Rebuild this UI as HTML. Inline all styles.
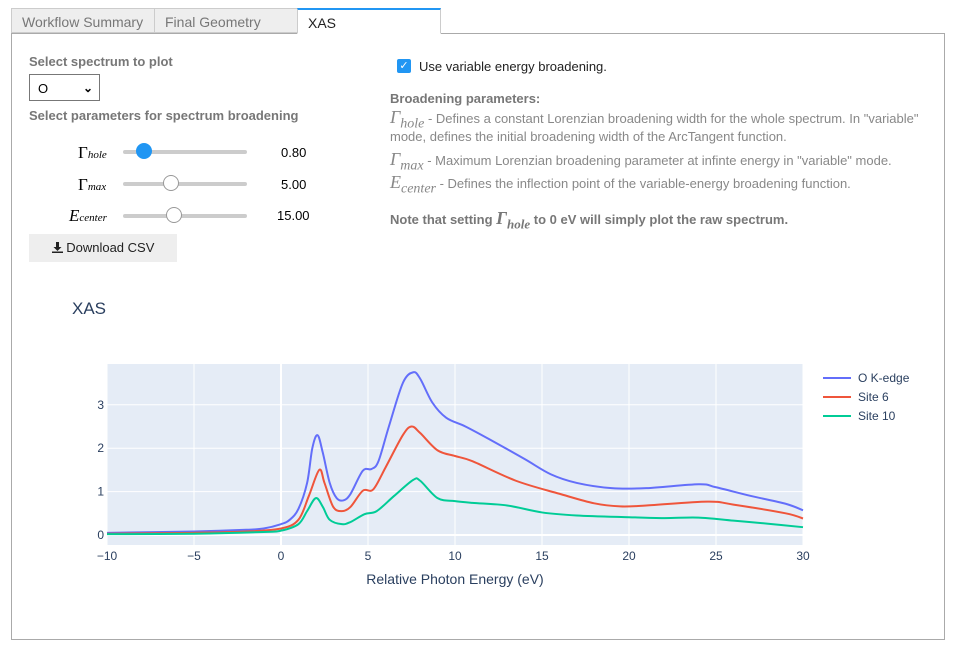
<!DOCTYPE html>
<html><head><meta charset="utf-8"><style>
body{margin:0;width:955px;height:651px;background:#fff;font-family:"Liberation Sans",sans-serif;position:relative;overflow:hidden}
.tab{position:absolute;top:8px;height:25px;border:1px solid #ccc;background:#eee;color:#777;font-size:14px;line-height:26px;padding-left:10px;box-sizing:border-box}
.panel{position:absolute;left:11px;top:33px;width:934px;height:607px;border:1px solid #aaa;box-sizing:border-box}
.lbl{position:absolute;font-size:13px;font-weight:bold;color:#777}
.math{font-family:"Liberation Serif",serif;font-style:italic}
.math sub{line-height:0}
.slider{position:absolute;left:123px;width:124px;height:4px;background:#ccc;border-radius:2px}
.knob{position:absolute;top:-7px;width:16px;height:16px;border-radius:50%;background:#fff;border:1px solid #999;box-sizing:border-box}
.val{position:absolute;left:277px;font-size:13px;color:#000}
.desc{position:absolute;left:390px;font-size:13px;color:#888;line-height:18px;width:540px}
</style></head><body>
<div class="tab" style="left:11px;width:144px">Workflow Summary</div>
<div class="tab" style="left:154px;width:144px">Final Geometry</div>
<div class="tab" style="left:297px;width:144px;background:#fff;color:#222;border-top:2px solid #2196f3;border-bottom:1px solid #fff;height:26px;z-index:2">XAS</div>
<div class="panel"></div>
<div class="lbl" style="left:29px;top:54px">Select spectrum to plot</div>
<div style="position:absolute;left:29px;top:74px;width:71px;height:27px;border:1px solid #777;box-sizing:border-box;font-size:13px;line-height:28px;padding-left:8px">O<span style="position:absolute;right:6px;top:-1px;font-size:12px;font-weight:bold">&#x2304;</span></div>
<div class="lbl" style="left:29px;top:108px">Select parameters for spectrum broadening</div>
<div style="position:absolute;left:78px;top:143px;font-family:'Liberation Serif',serif;font-size:17px">Γ<i style="font-size:11px">hole</i></div>
<div style="position:absolute;left:78px;top:175px;font-family:'Liberation Serif',serif;font-size:17px">Γ<i style="font-size:11px">max</i></div>
<div style="position:absolute;left:69px;top:206px;font-family:'Liberation Serif',serif;font-size:17px"><i>E</i><i style="font-size:11px">center</i></div>
<div class="slider" style="top:150px"><div class="knob" style="left:13px;background:#2196f3;border-color:#2196f3"></div></div>
<div class="slider" style="top:182px"><div class="knob" style="left:40px"></div></div>
<div class="slider" style="top:214px"><div class="knob" style="left:43px"></div></div>
<div class="val" style="left:281px;top:145px">0.80</div>
<div class="val" style="left:281px;top:177px">5.00</div>
<div class="val" style="top:208px">15.00</div>
<div style="position:absolute;left:29px;top:234px;width:148px;height:28px;background:#eee;font-size:13px;line-height:28px;text-align:center;color:#222"><svg width="11" height="11" viewBox="0 0 11 11" style="vertical-align:-1px"><path d="M4 0h3v5h2.5L5.5 9 1.5 5H4z" fill="#222"/><rect x="0" y="9.5" width="11" height="1.5" fill="#222"/></svg> Download CSV</div>
<div style="position:absolute;left:397px;top:59px;width:14px;height:14px;background:#2196f3;border-radius:2px;color:#fff;font-size:11px;line-height:14px;text-align:center">✓</div>
<div style="position:absolute;left:419px;top:59px;font-size:13px;color:#222">Use variable energy broadening.</div>
<div class="lbl" style="left:390px;top:91px">Broadening parameters:</div>
<div class="desc" style="top:108px"><span class="math" style="font-size:18px">Γ<sub style="font-size:14px">hole</sub></span> - Defines a constant Lorenzian broadening width for the whole spectrum. In "variable" mode, defines the initial broadening width of the ArcTangent function.</div>
<div class="desc" style="top:150px"><span class="math" style="font-size:18px">Γ<sub style="font-size:14px">max</sub></span> - Maximum Lorenzian broadening parameter at infinte energy in "variable" mode.</div>
<div class="desc" style="top:173px"><span class="math" style="font-size:18px">E<sub style="font-size:14px">center</sub></span> - Defines the inflection point of the variable-energy broadening function.</div>
<div class="lbl" style="left:390px;top:208px">Note that setting <span class="math" style="font-size:18px">Γ<sub style="font-size:13px">hole</sub></span> to 0 eV will simply plot the raw spectrum.</div>
<svg id="chart" width="955" height="651" style="position:absolute;left:0;top:0" font-family="Liberation Sans, sans-serif"></svg>
<script>
const xTicks=[-10,-5,0,5,10,15,20,25,30];
const yTicks=[0,1,2,3];
const seriesNames=["O K-edge","Site 6","Site 10"];
const seriesColors=["#636efa","#ef553b","#00cc96"];
const blueX=[-10,-5,-2,-1,0,0.5,1,1.5,1.8,2.1,2.4,2.8,3.2,3.6,4,4.7,5.2,5.6,6.2,7,7.6,8,8.7,9.5,10.6,12,14,15.5,17,19,21,24,25,27,29,30];
const blueY=[0.05,0.08,0.12,0.15,0.25,0.35,0.6,1.2,2.0,2.3,1.9,1.2,0.85,0.8,0.95,1.48,1.52,1.7,2.5,3.5,3.75,3.6,3.05,2.7,2.5,2.2,1.75,1.4,1.2,1.08,1.08,1.17,1.1,0.9,0.72,0.57];
const redX=[-10,-5,-2,0,1,1.6,2.2,2.5,3,3.5,4,4.7,5.3,6,7,7.5,8,9,10,11,13.5,16,18,19.5,21,24.5,26,29,30];
const redY=[0.03,0.05,0.08,0.15,0.35,0.9,1.5,1.2,0.65,0.55,0.65,1.02,1.05,1.55,2.3,2.5,2.35,1.95,1.82,1.7,1.25,0.95,0.73,0.66,0.68,0.77,0.7,0.5,0.38];
const greenX=[-10,-5,-1,0,1,1.5,2,2.4,2.8,3.5,4,4.8,5.5,6.5,7.6,8,9,10,11,13,15,17,20,22,24,26,28,30];
const greenY=[0.02,0.03,0.07,0.1,0.25,0.55,0.85,0.65,0.35,0.25,0.3,0.48,0.55,0.9,1.27,1.25,0.85,0.78,0.74,0.68,0.52,0.45,0.41,0.39,0.4,0.33,0.26,0.18];
const svg=document.getElementById('chart');const NS='http://www.w3.org/2000/svg';
const L=107,R=803,T=364,B=545;
const xs=v=>L+(v+10)/40*(R-L);
const ys=v=>535-v*43.4;
function mk(t,a,p){const e=document.createElementNS(NS,t);for(const k in a)e.setAttribute(k,a[k]);(p||svg).appendChild(e);return e;}
const bg=mk('rect',{x:L,y:T,width:R-L,height:B-T,fill:'#e5ecf6'});


xTicks.forEach(t=>{const g=mk('line',{x1:xs(t),x2:xs(t),y1:T,y2:B,stroke:'#fff','stroke-width':t===0?2:1});


const tx=mk('text',{x:xs(t),y:B+15,'text-anchor':'middle','font-size':12,fill:'#2a3f5f'});tx.textContent=t<0?'\u2212'+(-t):t;

});
yTicks.forEach(t=>{const g=mk('line',{x1:L,x2:R,y1:ys(t),y2:ys(t),stroke:'#fff','stroke-width':t===0?2:1});


const tx=mk('text',{x:L-3,y:ys(t)+4,'text-anchor':'end','font-size':12,fill:'#2a3f5f'});tx.textContent=t;

});
function path(X,Y){const p=X.map((x,i)=>[xs(x),ys(Y[i])]);let d='M'+p[0][0]+','+p[0][1];
for(let i=0;i<p.length-1;i++){const p0=p[i-1]||p[i],p1=p[i],p2=p[i+1],p3=p[i+2]||p2;
const c1=[p1[0]+(p2[0]-p0[0])/6,p1[1]+(p2[1]-p0[1])/6],c2=[p2[0]-(p3[0]-p1[0])/6,p2[1]-(p3[1]-p1[1])/6];
d+=` C${c1[0]},${c1[1]} ${c2[0]},${c2[1]} ${p2[0]},${p2[1]}`;}return d;}
const data=[[blueX,blueY],[redX,redY],[greenX,greenY]];
data.forEach((s,i)=>{const l=mk('path',{d:path(s[0],s[1]),fill:'none',stroke:seriesColors[i],'stroke-width':2});


const ly=378+i*19;
const g=mk('g',{});


mk('line',{x1:823,x2:851,y1:ly,y2:ly,stroke:seriesColors[i],'stroke-width':2},g);
const t=mk('text',{x:858,y:ly+4,'font-size':12,fill:'#2a3f5f'},g);t.textContent=seriesNames[i];});
const tt=mk('text',{x:72,y:314,'font-size':17,fill:'#2a3f5f'});tt.textContent='XAS';


const xt=mk('text',{x:455,y:584,'font-size':14,'text-anchor':'middle',fill:'#2a3f5f'});xt.textContent='Relative Photon Energy (eV)';


</script>
</body></html>
